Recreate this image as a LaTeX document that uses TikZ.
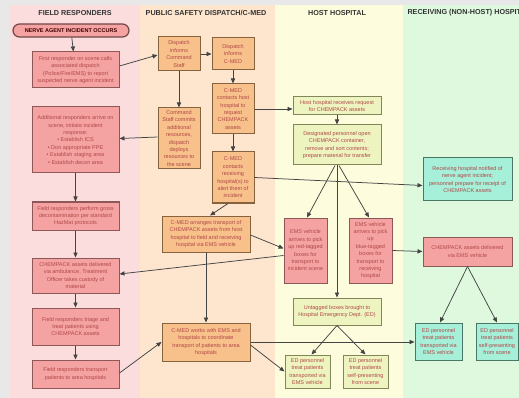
\documentclass[tikz,border=0pt]{standalone}
\usepackage{fontspec}
\setmainfont{Liberation Sans}
\usetikzlibrary{arrows.meta,positioning}
\definecolor{lanef}{HTML}{FBDDDD}
\definecolor{laned}{HTML}{FDE5CE}
\definecolor{laneh}{HTML}{FDFDDD}
\definecolor{laner}{HTML}{DEF9DE}
\definecolor{fpink}{HTML}{F5A2A2}
\definecolor{forange}{HTML}{F8C08A}
\definecolor{fyellow}{HTML}{EEF4C0}
\definecolor{fgreen}{HTML}{A6EFD8}
\definecolor{bpink}{HTML}{8E5858}
\definecolor{borange}{HTML}{86633F}
\definecolor{byellow}{HTML}{83865A}
\definecolor{bgreen}{HTML}{4A7666}
\definecolor{txt}{HTML}{B04848}
\definecolor{edge}{HTML}{444444}
\tikzset{
  box/.style={draw, line width=1pt, rectangle, align=center, inner sep=0.5pt,
    font=\fontsize{5.5}{7.4}\selectfont, text=txt},
  fbox/.style={box, fill=fpink, draw=bpink},
  dbox/.style={box, fill=forange, draw=borange},
  hbox/.style={box, fill=fyellow, draw=byellow},
  rbox/.style={box, fill=fgreen, draw=bgreen},
  lanetitle/.style={font=\bfseries\fontsize{7.2}{8}\selectfont, text=black!80},
  arr/.style={-{Triangle[length=5pt,width=4.2pt]}, line width=0.75pt, draw=edge},
}
\begin{document}
\begin{tikzpicture}[x=1pt,y=-1pt]
\useasboundingbox (0,0) rectangle (519,398);
\clip (0,0) rectangle (519,398);
% background and lanes
\fill[black!9] (0,0) rectangle (519,398);
\fill[lanef] (10,5) rectangle (140,398);
\fill[laned] (140,5) rectangle (275,398);
\fill[laneh] (275,5) rectangle (403,398);
\fill[laner] (403,5) rectangle (519,398);
% lane titles
\node[lanetitle] (t1) at (75,13) {FIELD RESPONDERS};
\node[lanetitle] (t2) at (206,13) {PUBLIC SAFETY DISPATCH/C-MED};
\node[lanetitle] (t3) at (337,13) {HOST HOSPITAL};
\node[lanetitle, anchor=west] (t4) at (404,13) {RECEIVING (NON-HOST) HOSPITAL};
% field responders
\node[draw=bpink!80!black, fill=fpink, line width=1.2pt, rounded corners=6.5pt,
  minimum width=116pt, minimum height=13pt, inner sep=0pt,
  font=\bfseries\fontsize{5.5}{6}\selectfont, text=black!75!red] (pill) at (71,30.5) {NERVE AGENT INCIDENT OCCURS};
\node[fbox, minimum width=87pt, minimum height=36pt] (f1) at (75.5,70) {First responder on scene calls\\associated dispatch\\(Police/Fire/EMS) to report\\suspected nerve agent incident};
\node[fbox, minimum width=87pt, minimum height=66pt] (f2) at (75.5,140) {Additional responders arrive on\\scene, initiate incident\\response:\\\textbullet\ Establish ICS\\\textbullet\ Don appropriate PPE\\\textbullet\ Establish staging area\\\textbullet\ Establish decon area};
\node[fbox, minimum width=87pt, minimum height=28pt] (f3) at (75.5,216) {Field responders perform gross\\decontamination per standard\\HazMat protocols};
\node[fbox, minimum width=87pt, minimum height=35pt] (f4) at (75.5,275.5) {CHEMPACK assets delivered\\via ambulance, Treatment\\Officer takes custody of\\material};
\node[fbox, minimum width=87pt, minimum height=37pt] (f5) at (75.5,326.5) {Field responders triage and\\treat patients using\\CHEMPACK assets};
\node[fbox, minimum width=87pt, minimum height=28pt] (f6) at (75.5,374) {Field responders transport\\patients to area hospitals};
% dispatch
\node[dbox, minimum width=42pt, minimum height=34pt] (d1) at (179,54) {Dispatch\\informs\\Command\\Staff};
\node[dbox, minimum width=42pt, minimum height=32pt] (d2) at (233,54) {Dispatch\\informs\\C-MED};
\node[dbox, minimum width=42pt, minimum height=50pt] (d3) at (233,109) {C-MED\\contacts host\\hospital to\\request\\CHEMPACK\\assets};
\node[dbox, minimum width=42pt, minimum height=61pt] (d4) at (179,138.5) {Command\\Staff commits\\additional\\resources,\\dispatch\\deploys\\resources to\\the scene};
\node[dbox, minimum width=42pt, minimum height=51pt] (d5) at (233,177.5) {C-MED\\contacts\\receiving\\hospital(s) to\\alert them of\\incident};
\node[dbox, minimum width=88pt, minimum height=36pt] (d6) at (206,234) {C-MED arranges transport of\\CHEMPACK assets from host\\hospital to field and receiving\\hospital via EMS vehicle};
\node[dbox, minimum width=88pt, minimum height=38pt] (d7) at (206,342) {C-MED works with EMS and\\hospitals to coordinate\\transport of patients to area\\hospitals};
% host hospital
\node[hbox, minimum width=88pt, minimum height=18pt] (h1) at (337,106) {Host hospital receives request\\for CHEMPACK assets};
\node[hbox, minimum width=88pt, minimum height=40pt] (h2) at (337,145) {Designated personnel open\\CHEMPACK container,\\remove and sort contents;\\prepare material for transfer};
\node[fbox, minimum width=43pt, minimum height=65pt] (e1) at (305.5,250.5) {EMS vehicle\\arrives to pick\\up red-tagged\\boxes for\\transport to\\incident scene};
\node[fbox, minimum width=43pt, minimum height=65pt] (e2) at (370.5,250.5) {EMS vehicle\\arrives to pick\\up\\blue-tagged\\boxes for\\transport to\\receiving\\hospital};
\node[hbox, minimum width=88pt, minimum height=27pt] (h3) at (337,311.5) {Untagged boxes brought to\\Hospital Emergency Dept. (ED)};
\node[hbox, minimum width=45pt, minimum height=33pt] (h4) at (307.5,371.5) {ED personnel\\treat patients\\transported via\\EMS vehicle};
\node[hbox, minimum width=45pt, minimum height=33pt] (h5) at (365.5,371.5) {ED personnel\\treat patients\\self-presenting\\from scene};
% receiving hospital
\node[rbox, minimum width=89pt, minimum height=43pt] (r1) at (467.5,179.5) {Receiving hospital notified of\\nerve agent incident;\\personnel prepare for receipt of\\CHEMPACK assets};
\node[fbox, minimum width=89pt, minimum height=29pt] (r2) at (467.5,251.5) {CHEMPACK assets delivered\\via EMS vehicle};
\node[rbox, minimum width=47pt, minimum height=37pt] (r3) at (438.5,341.5) {ED personnel\\treat patients\\transported via\\EMS vehicle};
\node[rbox, minimum width=42pt, minimum height=37pt] (r4) at (497,341.5) {ED personnel\\treat patients\\self-presenting\\from scene};
% connectors
\draw[arr] (pill) -- (f1);
\draw[arr] (f2) -- (f3);
\draw[arr] (f3) -- (f4);
\draw[arr] (f4) -- (f5);
\draw[arr] (f5) -- (f6);
\draw[arr] ([yshift=4pt]f1.east) -- ([yshift=-1pt]d1.west);
\draw[arr] (d1) -- (d2);
\draw[arr] (d1) -- (d4);
\draw[arr] (d2) -- (d3);
\draw[arr] (d3) -- (d5);
\draw[arr] ([yshift=1.5pt]d4.west) -- ([yshift=1.5pt]f2.east);
\draw[arr] (d3.east) -- (h1.west |- d3.east);
\draw[arr] ([xshift=-5pt]d5.south) -- ([xshift=4pt]d6.north);
\draw[arr] (d5.east) -- ([yshift=-6pt]r1.west);
\draw[arr] (h1) -- (h2);
\draw[arr] ([xshift=-2pt]h2.south) -- ([xshift=1.5pt]e1.north);
\draw[arr] ([xshift=2pt]h2.south) -- ([xshift=-1.5pt]e2.north);
\draw[arr] (h2.south) -- (h3.north);
\draw[arr] ([yshift=-1pt]d6.east) -- ([yshift=2pt]e1.west);
\draw[arr] ([yshift=-5pt]e1.west) -- ([yshift=1.5pt]f4.east);
\draw[arr] (e2.east) -- (r2.west);
\draw[arr] (d6.south) -- (d7.north);
\draw[arr] ([yshift=1pt]f6.east) -- (d7.west);
\draw[arr] (d7.east) -- (r3.west |- d7.east);
\draw[arr] ([yshift=-3pt]d7.east) -- (h4.west);
\draw[arr] (h3.south) -- ([xshift=4pt]h4.north);
\draw[arr] (h3.south) -- (h5.north);
\draw[arr] (r2.south) -- ([xshift=1.5pt]r3.north);
\draw[arr] (r2.south) -- (r4.north);
\end{tikzpicture}
\end{document}
